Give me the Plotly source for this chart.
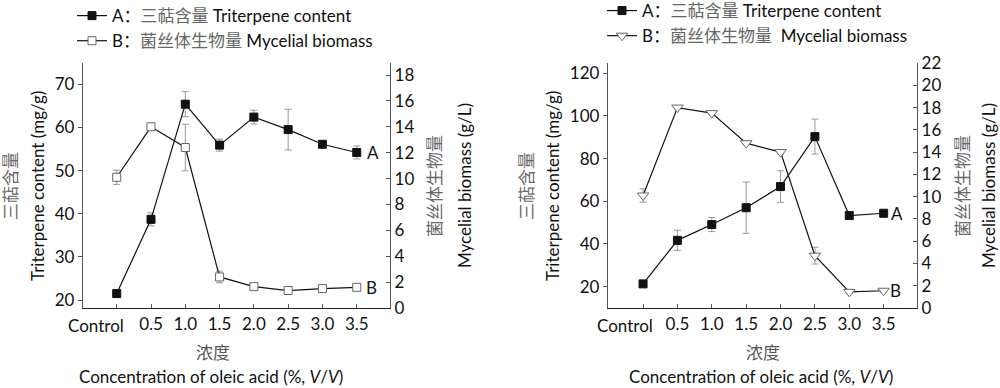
import plotly.graph_objects as go
from plotly.subplots import make_subplots

# ---------------- data ----------------
categories = ["Control", "0.5", "1.0", "1.5", "2.0", "2.5", "3.0", "3.5"]
tick_labels = ["", "0.5", "1.0", "1.5", "2.0", "2.5", "3.0", "3.5"]
first_label = "Control"

# left panel
triterpene_1 = [21.5, 38.7, 65.4, 55.9, 62.4, 59.5, 56.1, 54.2]
triterpene_1_err = [0.5, 1.5, 2.9, 1.4, 1.6, 4.7, 0.5, 1.5]
biomass_1 = [10.1, 14.0, 12.4, 2.4, 1.65, 1.35, 1.5, 1.6]
biomass_1_err = [0.55, 0.2, 1.8, 0.45, 0.15, 0.1, 0.15, 0.15]

# right panel
triterpene_2 = [21.3, 41.7, 49.1, 57.0, 66.9, 90.3, 53.3, 54.4]
triterpene_2_err = [0.5, 4.7, 3.3, 12.0, 7.4, 8.2, 0.5, 0.5]
biomass_2 = [10.1, 18.0, 17.5, 14.8, 14.0, 4.7, 1.45, 1.55]
biomass_2_err = [0.6, 0.15, 0.15, 0.15, 0.2, 0.75, 0.15, 0.15]

name_a = "A：<span style='color:#666666'>三萜含量</span> Triterpene content"
name_b = "B：<span style='color:#666666'>菌丝体生物量</span> Mycelial biomass"
name_b2 = "B：<span style='color:#666666'>菌丝体生物量</span>  Mycelial biomass"

title_zh_left = "三萜含量"
title_en_left = "Triterpene content (mg/g)"
title_zh_right = "菌丝体生物量"
title_en_right = "Mycelial biomass (g/L)"
xtitle_zh = "浓度"
xtitle_en = "Concentration of oleic acid (%, <i>V</i>/<i>V</i>)"

FONT = "Lato, 'Noto Sans CJK SC', sans-serif"
ERRC = "#9a9a9a"

fig = make_subplots(rows=1, cols=2, specs=[[{"secondary_y": True}, {"secondary_y": True}]])


def err(vals):
    return dict(type="data", array=vals, visible=True, color=ERRC, thickness=1, width=3.5)


# Left panel
fig.add_trace(go.Scatter(x=categories, y=biomass_1, error_y=err(biomass_1_err), mode="lines+markers",
                         name=name_b, legend="legend",
                         line=dict(color="#111", width=1.2),
                         marker=dict(symbol="square", size=8, color="white", line=dict(color="#666", width=1))),
              row=1, col=1, secondary_y=True)
fig.add_trace(go.Scatter(x=categories, y=triterpene_1, error_y=err(triterpene_1_err), mode="lines+markers",
                         name=name_a, legend="legend",
                         line=dict(color="#111", width=1.2),
                         marker=dict(symbol="square", size=8, color="#111", line=dict(color="#111", width=1))),
              row=1, col=1, secondary_y=False)

# Right panel
fig.add_trace(go.Scatter(x=categories, y=biomass_2, error_y=err(biomass_2_err), mode="lines+markers",
                         name=name_b2, legend="legend2",
                         line=dict(color="#111", width=1.2),
                         marker=dict(symbol="triangle-down", size=10, color="white", line=dict(color="#666", width=1))),
              row=1, col=2, secondary_y=True)
fig.add_trace(go.Scatter(x=categories, y=triterpene_2, error_y=err(triterpene_2_err), mode="lines+markers",
                         name=name_a, legend="legend2",
                         line=dict(color="#111", width=1.2),
                         marker=dict(symbol="square", size=8, color="#111", line=dict(color="#111", width=1))),
              row=1, col=2, secondary_y=False)

ydom = [80 / 388, 325 / 388]
axline = dict(showline=True, linecolor="#555", linewidth=1.3, showgrid=False, zeroline=False, automargin=False,
              tickfont=dict(family=FONT, size=17, color="#111"), ticklen=4, tickcolor="#555")

xcommon = dict(axline, type="category", tickvals=categories, ticktext=tick_labels, ticks="inside",
               linecolor="#222", tickangle=0)
fig.update_layout(
    xaxis=dict(xcommon, domain=[0.083, 0.390], range=[-0.983, 7.97]),
    xaxis2=dict(xcommon, domain=[0.608, 0.917], range=[-1.02, 7.97]),
    yaxis=dict(axline, domain=ydom, range=[18.15, 74.94], tickvals=[20, 30, 40, 50, 60, 70], ticks="outside"),
    yaxis2=dict(axline, domain=ydom, range=[0, 18.93], tickvals=list(range(0, 19, 2)), ticks="inside"),
    yaxis3=dict(axline, domain=ydom, range=[10, 124.8], tickvals=[20, 40, 60, 80, 100, 120], ticks="outside"),
    yaxis4=dict(axline, domain=ydom, range=[0, 22], tickvals=list(range(0, 23, 2)), ticks="inside"),
)

legend_common = dict(font=dict(family=FONT, size=17, color="#111"), bgcolor="rgba(0,0,0,0)",
                     itemwidth=30, tracegroupgap=0, yanchor="top", xanchor="left",
                     traceorder="reversed")
fig.update_layout(
    legend=dict(legend_common, x=0.072, y=1.005),
    legend2=dict(legend_common, x=0.602, y=1.018),
    showlegend=True,
    width=1000, height=388,
    margin=dict(l=0, r=0, t=0, b=0, autoexpand=False),
    paper_bgcolor="white", plot_bgcolor="white",
    font=dict(family=FONT, size=17, color="#111"),
)

last = len(categories) - 1
ann_font = dict(family=FONT, size=17, color="#111")
zh_font = dict(family=FONT, size=17, color="#6a6a6a")
tick_y = (388 - 325) / 388
ymid = (388 - 186) / 388


def px(v):
    return v / 1000


annotations = [
    dict(x=last, y=triterpene_1[-1], xref="x", yref="y", text="A", showarrow=False, xshift=16, font=ann_font),
    dict(x=last, y=biomass_1[-1], xref="x", yref="y2", text="B", showarrow=False, xshift=15, font=ann_font),
    dict(x=last, y=triterpene_2[-1], xref="x2", yref="y3", text="A", showarrow=False, xshift=13, font=ann_font),
    dict(x=last, y=biomass_2[-1], xref="x2", yref="y4", text="B", showarrow=False, xshift=12, font=ann_font),
    # first category label (set slightly left of its tick, as in the original)
    dict(x=0, y=tick_y, xref="x", yref="paper", text=first_label, showarrow=False, xanchor="right",
         yanchor="middle", xshift=9, font=ann_font),
    dict(x=0, y=tick_y, xref="x2", yref="paper", text=first_label, showarrow=False, xanchor="right",
         yanchor="middle", xshift=12, font=ann_font),
]
# x-axis titles (two lines)
for cx_zh, cx_en in [(213, 211), (763, 761)]:
    annotations.append(dict(x=px(cx_zh), y=(388 - 352) / 388, xref="paper", yref="paper", text=xtitle_zh,
                            showarrow=False, xanchor="center", yanchor="middle",
                            font=dict(family=FONT, size=17, color="#555555")))
    annotations.append(dict(x=px(cx_en), y=(388 - 376) / 388, xref="paper", yref="paper", text=xtitle_en,
                            showarrow=False, xanchor="center", yanchor="middle", font=ann_font))
# y-axis titles (two rotated lines each)
for cx, txt, f in [(11, title_zh_left, zh_font), (38, title_en_left, ann_font),
                   (435, title_zh_right, zh_font), (465, title_en_right, ann_font),
                   (527, title_zh_left, zh_font), (553, title_en_left, ann_font),
                   (963, title_zh_right, zh_font), (989, title_en_right, ann_font)]:
    annotations.append(dict(x=px(cx), y=ymid, xref="paper", yref="paper", text=txt, textangle=-90,
                            showarrow=False, xanchor="center", yanchor="middle", font=f))
fig.update_layout(annotations=annotations)

fig.write_html("out.html", config={"displayModeBar": False},
               post_script="document.body.style.margin='0';document.body.style.overflow='hidden';")
